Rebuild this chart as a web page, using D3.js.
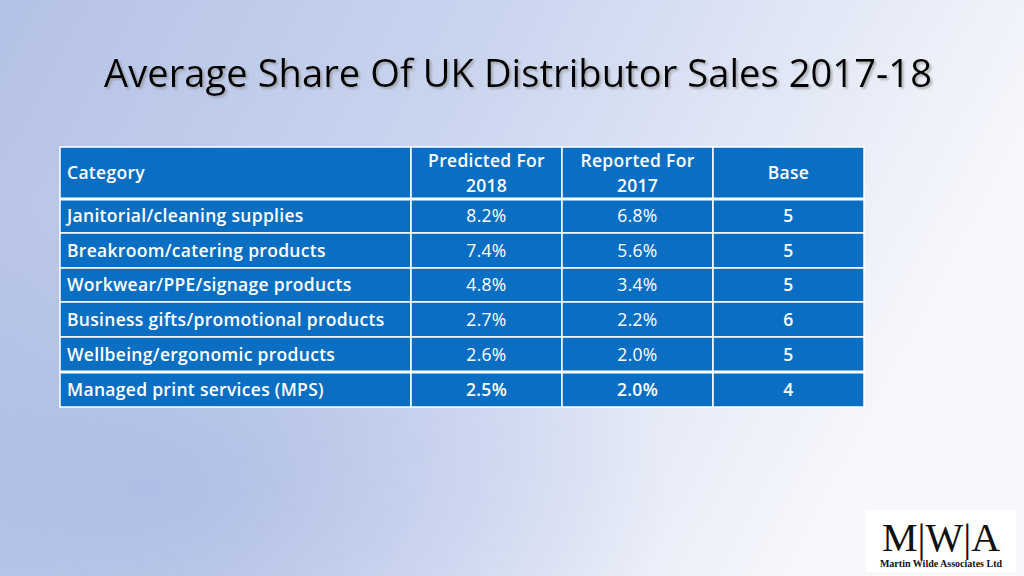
<!DOCTYPE html>
<html><head><meta charset="utf-8">
<script src="https://cdn.jsdelivr.net/npm/d3@7"></script>
<style>body{margin:0;overflow:hidden}</style></head>
<body><svg id="c" width="1024" height="576"></svg>
<script>
const title = "Average Share Of UK Distributor Sales 2017-18";
const headers = [["Category"], ["Predicted For","2018"], ["Reported For","2017"], ["Base"]];
const categories = ["Janitorial/cleaning supplies","Breakroom/catering products","Workwear/PPE/signage products","Business gifts/promotional products","Wellbeing/ergonomic products","Managed print services (MPS)"];
const predicted2018 = [8.2, 7.4, 4.8, 2.7, 2.6, 2.5];
const reported2017 = [6.8, 5.6, 3.4, 2.2, 2.0, 2.0];
const base = [5, 5, 5, 6, 5, 4];

const svg = d3.select("#c");
const defs = svg.append("defs");
const g1 = defs.append("linearGradient").attr("id","bg").attr("x1","0").attr("y1","0").attr("x2","1").attr("y2","0.3");
g1.append("stop").attr("offset","0").attr("stop-color","#b3c1e6");
g1.append("stop").attr("offset","0.45").attr("stop-color","#c9d4ee");
g1.append("stop").attr("offset","1").attr("stop-color","#f7f8fc");
svg.append("rect").attr("width",1024).attr("height",576).attr("fill","url(#bg)");
const g2 = defs.append("radialGradient").attr("id","glow").attr("cx","0.15").attr("cy","0.85").attr("r","0.5");
g2.append("stop").attr("offset","0").attr("stop-color","#9fb1e0").attr("stop-opacity",0.6);
g2.append("stop").attr("offset","1").attr("stop-color","#9fb1e0").attr("stop-opacity",0);
svg.append("rect").attr("width",1024).attr("height",576).attr("fill","url(#glow)");

const font = "Open Sans, sans-serif";
const tf = defs.append("filter").attr("id","sh");
tf.append("feDropShadow").attr("dx",2).attr("dy",2).attr("stdDeviation",0.8).attr("flood-color","#888").attr("flood-opacity",0.6);
svg.append("text").attr("x",518).attr("y",87).attr("text-anchor","middle").attr("filter","url(#sh)")
  .attr("font-family",font).attr("font-size",38).attr("fill","#000")
  .attr("textLength",828).attr("lengthAdjust","spacingAndGlyphs").text(title);

const colEdges = [60,411,562,713,864];
const rowEdges = [147,199,233,268,302,337,372,407];
const blue = "#0a6fc2";
const tg = svg.append("g");
const rows = categories.map((c,i)=>[c, predicted2018[i].toFixed(1)+"%", reported2017[i].toFixed(1)+"%", String(base[i])]);
const all = [null, ...rows];
all.forEach((r,ri)=>{
  for(let ci=0;ci<4;ci++){
    const x0=colEdges[ci], x1=colEdges[ci+1], y0=rowEdges[ri], y1=rowEdges[ri+1];
    tg.append("rect").attr("x",x0).attr("y",y0).attr("width",x1-x0).attr("height",y1-y0)
      .attr("fill",blue).attr("stroke","#fff").attr("stroke-width",1.5);
    const bold = ri===0 || ci===0 || ci===3 || ri===6;
    const anchor = ci===0 ? "start" : "middle";
    const tx = ci===0 ? x0+7 : (x0+x1)/2;
    const lines = ri===0 ? headers[ci] : [r[ci]];
    const my=(y0+y1)/2;
    lines.forEach((l,li)=>{
      tg.append("text").attr("x",tx).attr("y",my+(li-(lines.length-1)/2)*25+6)
        .attr("text-anchor",anchor).attr("font-family",font).attr("font-size",17.5)
        .attr("font-weight",bold?600:400).attr("fill","#fff").attr("letter-spacing",0.3).text(l);
    });
  }
});
[199,372].forEach(y=>tg.append("rect").attr("x",60).attr("y",y-1.5).attr("width",804).attr("height",3).attr("fill","#fff"));

const lg = svg.append("g");
lg.append("rect").attr("x",866).attr("y",510).attr("width",150).attr("height",62).attr("fill","#fff");
lg.append("text").attr("x",941).attr("y",551).attr("text-anchor","middle").attr("font-family","Liberation Serif, serif")
  .attr("font-size",40).attr("fill","#111").text("M|W|A");
lg.append("text").attr("x",941).attr("y",567).attr("text-anchor","middle").attr("font-family","Liberation Serif, serif")
  .attr("font-size",10).attr("font-weight",700).attr("fill","#111").text("Martin Wilde Associates Ltd");
</script></body></html>
